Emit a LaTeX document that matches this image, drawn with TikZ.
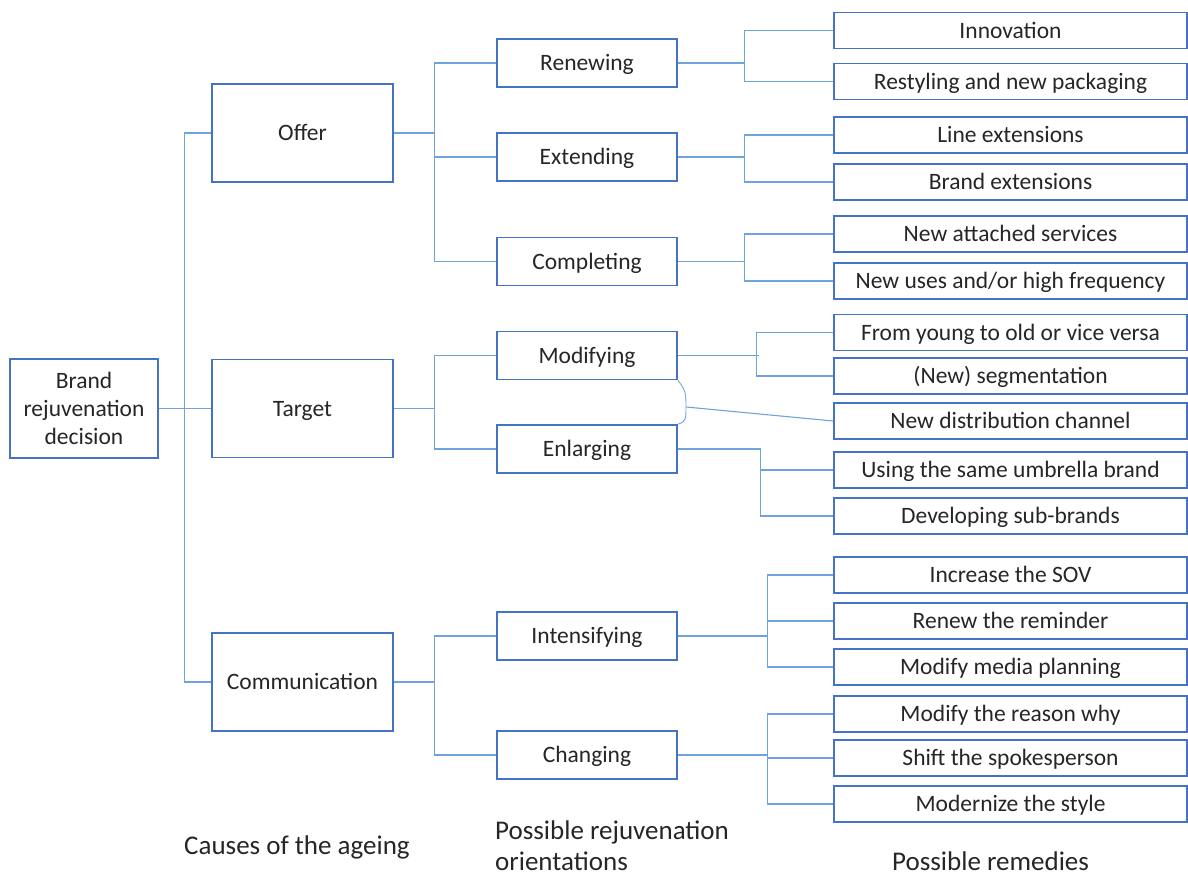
\documentclass[tikz,border=0pt]{standalone}
\usepackage{fontspec}
\setmainfont{Carlito}
\begin{document}
\begin{tikzpicture}[x=1pt,y=-1pt,
  box/.style={draw=boxblue,line width=1.8pt,fill=white,inner sep=0pt,
    font=\fontsize{23.5}{28}\selectfont,text=black!85,align=center},
  oneline/.style={box,text height=15.1pt,text depth=0pt},
  bigbox/.style={oneline,minimum width=181pt,minimum height=98pt},
  midbox/.style={oneline,minimum width=180pt,minimum height=48pt},
  smallbox/.style={oneline,minimum width=353pt,minimum height=36pt},
  link/.style={draw=linkblue,line width=1.1pt},
  caption/.style={font=\fontsize{27}{31}\selectfont,text=black!85,align=left,inner sep=0pt}]
\definecolor{boxblue}{HTML}{4472C4}
\definecolor{linkblue}{HTML}{6FA3DC}
\useasboundingbox (0,0) rectangle (1188,878);

% root and causes
\node[box,minimum width=148pt,minimum height=99pt] (brand) at (84,408.5) {Brand\\rejuvenation\\decision};
\node[bigbox] (offer) at (302.5,133) {Offer};
\node[bigbox] (target) at (302.5,408.5) {Target};
\node[bigbox] (comm) at (302.5,682) {Communication};

% orientations
\node[midbox] (renew) at (587,63) {Renewing};
\node[midbox] (extend) at (587,157) {Extending};
\node[midbox] (complete) at (587,261.5) {Completing};
\node[midbox] (modify) at (587,355.5) {Modifying};
\node[midbox] (enlarge) at (587,449) {Enlarging};
\node[midbox] (intens) at (587,636) {Intensifying};
\node[midbox] (change) at (587,755) {Changing};

% remedies
\node[smallbox] (r1) at (1010.5,30.5) {Innovation};
\node[smallbox] (r2) at (1010.5,81.5) {Restyling and new packaging};
\node[smallbox] (r3) at (1010.5,135) {Line extensions};
\node[smallbox] (r4) at (1010.5,182) {Brand extensions};
\node[smallbox] (r5) at (1010.5,234) {New attached services};
\node[smallbox] (r6) at (1010.5,281) {New uses and/or high frequency};
\node[smallbox] (r7) at (1010.5,332.5) {From young to old or vice versa};
\node[smallbox] (r8) at (1010.5,376) {(New) segmentation};
\node[smallbox] (r9) at (1010.5,421) {New distribution channel};
\node[smallbox] (r10) at (1010.5,470) {Using the same umbrella brand};
\node[smallbox] (r11) at (1010.5,516) {Developing sub-brands};
\node[smallbox] (r12) at (1010.5,575) {Increase the SOV};
\node[smallbox] (r13) at (1010.5,621) {Renew the reminder};
\node[smallbox] (r14) at (1010.5,667) {Modify media planning};
\node[smallbox] (r15) at (1010.5,714) {Modify the reason why};
\node[smallbox] (r16) at (1010.5,758) {Shift the spokesperson};
\node[smallbox] (r17) at (1010.5,804) {Modernize the style};

% bracket connectors
\path[link] (brand.east) -- ++(27,0);
\path[link] (offer.west) -- ++(-27,0) coordinate (b0) -- (b0 |- comm.west) -- (comm.west);
\path[link] (b0 |- target.west) -- (target.west);

\path[link] (offer.east) -- ++(41,0) coordinate (b1);
\path[link] (renew.west) -| (b1) |- (complete.west);
\path[link] (b1 |- extend.west) -- (extend.west);

\path[link] (target.east) -- ++(41,0) coordinate (b2);
\path[link] (modify.west) -| (b2) |- (enlarge.west);

\path[link] (comm.east) -- ++(41,0) coordinate (b3);
\path[link] (intens.west) -| (b3) |- (change.west);

\path[link] (renew.east) -- ++(67,0) coordinate (c1);
\path[link] (r1.west) -| (c1) |- (r2.west);
\path[link] (extend.east) -- ++(67,0) coordinate (c2);
\path[link] (r3.west) -| (c2) |- (r4.west);
\path[link] (complete.east) -- ++(67,0) coordinate (c3);
\path[link] (r5.west) -| (c3) |- (r6.west);
\path[link] (modify.east) -- ++(81,0) coordinate (c4);
\path[link] (r7.west) -| ([xshift=-2pt]c4) |- (r8.west);
\path[link] (enlarge.east) -- ++(83,0) coordinate (c5);
\path[link] (c5) |- (r11.west);
\path[link] (c5 |- r10.west) -- (r10.west);
\path[link] (intens.east) -- ++(90,0) coordinate (c6);
\path[link] (r12.west) -| (c6) |- (r14.west);
\path[link] (c6 |- r13.west) -- (r13.west);
\path[link] (change.east) -- ++(90,0) coordinate (c7);
\path[link] (r15.west) -| (c7) |- (r17.west);
\path[link] (c7 |- r16.west) -- (r16.west);

% shared branch to the distribution channel
\coordinate (arcmid) at (686,407);
\path[link,line width=0.9pt] (modify.south east) .. controls (686,390) and (686,395) .. (arcmid)
  .. controls (686,419) and (686,422) .. (enlarge.north east);
\path[link] (arcmid) -- (r9.west);

% column captions
\node[caption,anchor=west] (cap1) at (184,847) {Causes of the ageing};
\node[caption,anchor=north west] (cap2) at (495,821) {Possible rejuvenation\\orientations};
\node[caption,anchor=west] (cap3) at (892,861) {Possible remedies};
\end{tikzpicture}
\end{document}
